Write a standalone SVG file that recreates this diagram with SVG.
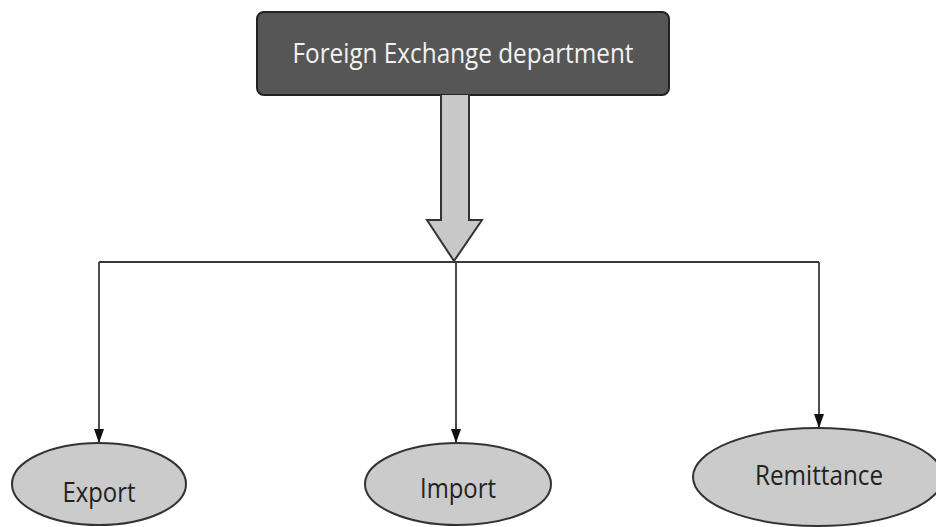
<svg xmlns="http://www.w3.org/2000/svg" width="936" height="527" viewBox="0 0 936 527">
<style>
.lbl{font-family:"Open Sans","Liberation Sans",sans-serif;font-size:28px;text-anchor:middle;fill:#222}
.ell{fill:#cbcbcb;stroke:#333;stroke-width:2}
.conn{fill:none;stroke:#3a3a3a;stroke-width:1.8}
</style>
<defs>
<marker id="ah" viewBox="0 0 14 10" refX="14" refY="5" markerWidth="14" markerHeight="10" markerUnits="userSpaceOnUse" orient="auto">
<path d="M0,0 L14,5 L0,10 Z" fill="#111"/>
</marker>
</defs>
<rect width="936" height="527" fill="#fff"/>
<g id="top">
<rect x="257" y="12" width="412" height="83" rx="7" fill="#565656" stroke="#222" stroke-width="2"/>
<text x="463" y="63" class="lbl" style="fill:#f2f2f2" textLength="341" lengthAdjust="spacingAndGlyphs">Foreign Exchange department</text>
</g>
<g id="connectors">
<path d="M441,95 L441,220 L427,220 L454,261 L482,220 L469,220 L469,95" fill="#c8c8c8" stroke="#333" stroke-width="2" stroke-linejoin="miter"/>
<path class="conn" d="M99,262 L819,262"/>
<path class="conn" d="M99,262 L99,443" marker-end="url(#ah)"/>
<path class="conn" d="M456,262 L456,443" marker-end="url(#ah)"/>
<path class="conn" d="M819,262 L819,428" marker-end="url(#ah)"/>
</g>
<g id="export">
<ellipse class="ell" cx="99" cy="484" rx="87" ry="41"/>
<text x="99" y="502" class="lbl" textLength="73" lengthAdjust="spacingAndGlyphs">Export</text>
</g>
<g id="import">
<ellipse class="ell" cx="458" cy="484" rx="93" ry="41"/>
<text x="458" y="498" class="lbl" textLength="76" lengthAdjust="spacingAndGlyphs">Import</text>
</g>
<g id="remittance">
<ellipse class="ell" cx="818" cy="477" rx="125" ry="49"/>
<text x="819" y="485" class="lbl" textLength="128" lengthAdjust="spacingAndGlyphs">Remittance</text>
</g>
</svg>
